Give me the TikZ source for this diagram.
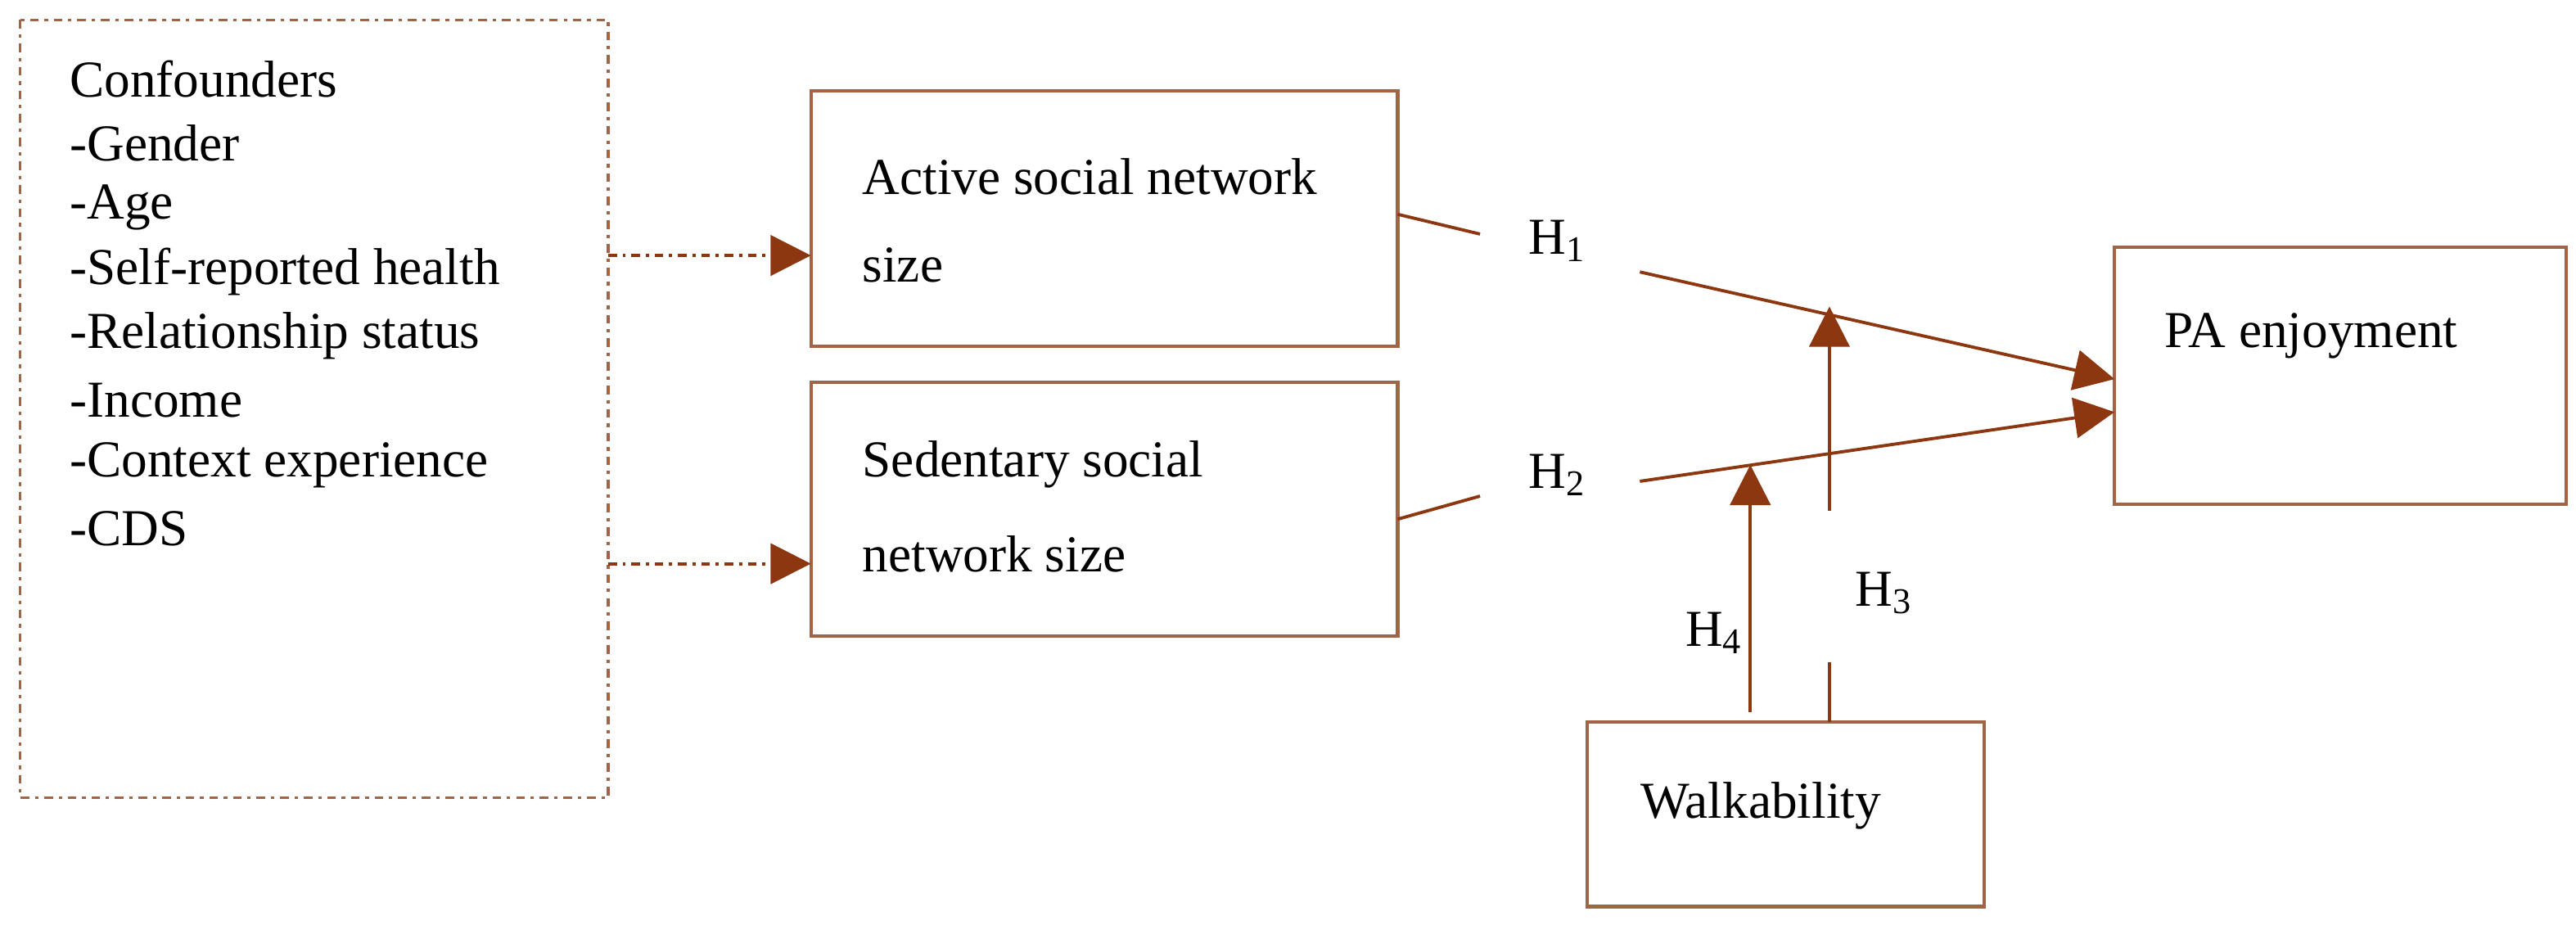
\documentclass[tikz,border=0pt]{standalone}
\usepackage{fontspec}
\setmainfont{Liberation Serif}
\usetikzlibrary{arrows.meta}
\definecolor{bx}{RGB}{160,100,70}
\definecolor{ar}{RGB}{140,55,15}
\begin{document}
\begin{tikzpicture}[x=0.2013mm,y=-0.2013mm,
  box/.style={draw=bx,line width=1.2pt},
  txt/.style={anchor=west,inner sep=0pt,font=\fontsize{18}{20}\selectfont},
  con/.style={draw=ar,line width=1.1pt},
  tip/.style={-{Triangle[length=14pt,width=14pt]}},
  lab/.style={inner sep=0pt,font=\fontsize{18}{20}\selectfont}]
\useasboundingbox (0,0) rectangle (1563,561);
\draw[box,dash dot,line width=0.9pt] (12,12) rectangle (369,484);
\foreach \t [count=\i from 0] in {Confounders,-Gender,-Age,-Self-reported health,-Relationship status,-Income,-Context experience,-CDS}
  \node[txt] (c\i) at (42,48+39*\i) {\t};
\draw[box] (492,55) rectangle (848,210);
\node[txt] (a1) at (523,107) {Active social network};
\node[txt] (a2) at (523,161) {size};
\draw[box] (492,232) rectangle (848,386);
\node[txt] (s1) at (523,282) {Sedentary social};
\node[txt] (s2) at (523,336) {network size};
\draw[box] (1283,150) rectangle (1557,306);
\node[txt] (pa) at (1313,204) {PA enjoyment};
\draw[box] (963,438) rectangle (1204,550);
\node[txt] (w) at (995,489) {Walkability};
\coordinate (d1a) at (369,155); \coordinate (d1b) at (492,155);
\coordinate (d2a) at (369,342); \coordinate (d2b) at (492,342);
\draw[con,dash dot,tip] (d1a) -- (d1b);
\draw[con,dash dot,tip] (d2a) -- (d2b);
\node[lab] (h1) at (945,146) {H\textsubscript{1}};
\node[lab] (h2) at (945,288) {H\textsubscript{2}};
\node[lab] (h3) at (1143,360) {H\textsubscript{3}};
\node[lab] (h4) at (1040,384) {H\textsubscript{4}};
\coordinate (p1) at (848,130); \coordinate (p2) at (898,142);
\coordinate (p3) at (995,165); \coordinate (p4) at (1283,230);
\draw[con] (p1) -- (p2); \draw[con,tip] (p3) -- (p4);
\coordinate (q1) at (848,315); \coordinate (q2) at (898,301);
\coordinate (q3) at (995,292); \coordinate (q4) at (1283,250);
\draw[con] (q1) -- (q2); \draw[con,tip] (q3) -- (q4);
\coordinate (v1) at (1110,438); \coordinate (v2) at (1110,402);
\coordinate (v3) at (1110,310); \coordinate (v4) at (1110,186);
\draw[con] (v1) -- (v2); \draw[con,tip] (v3) -- (v4);
\coordinate (u1) at (1062,432); \coordinate (u2) at (1062,282);
\draw[con,tip] (u1) -- (u2);
\end{tikzpicture}
\end{document}
